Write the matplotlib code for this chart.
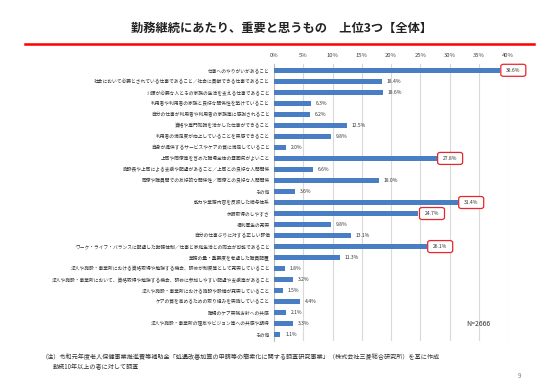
import matplotlib
matplotlib.use("Agg")
import matplotlib.pyplot as plt
from matplotlib.patches import FancyBboxPatch
from matplotlib.lines import Line2D

plt.rcParams['font.family'] = ['Noto Sans CJK JP', 'DejaVu Sans']

categories = [
    "仕事へのやりがいがあること",
    "社会において必要とされている仕事であること／社会に貢献できる仕事であること",
    "介護が必要な人とその家族の生活を支える仕事であること",
    "利用者や利用者の家族と良好な関係性を築けていること",
    "自分の仕事が利用者や利用者の家族等に感謝されること",
    "資格や専門知識を活かした仕事ができること",
    "利用者の満足度が向上していることを実感できること",
    "自身が提供するサービスやケアの質に満足していること",
    "上司や同僚等を含めた職場全体の雰囲気がよいこと",
    "施設長や上司による支援や配慮があること／上司との良好な人間関係",
    "同僚や職員間での友好的な関係性／同僚との良好な人間関係",
    "その他",
    "能力や業務内容を反映した給与体系",
    "休暇取得のしやすさ",
    "福利厚生の充実",
    "自分の仕事ぶりに対する正しい評価",
    "ワーク・ライフ・バランスに配慮した勤務体制／仕事と家庭生活との両立が可能であること",
    "業務の量・重要度を考慮した職員配置",
    "法人や施設・事業所における資格取得や勉強する機会、研修が制度等として充実していること",
    "法人や施設・事業所において、資格取得や勉強する機会、研修に参加しやすい配慮や支援等があること",
    "法人や施設・事業所における施設や設備が充実していること",
    "ケアの質を高めるための取り組みを実施していること",
    "職場のケア実践方針への共感",
    "法人や施設・事業所の理念やビジョン等への共感や期待",
    "その他",
]
values = [38.6, 18.4, 18.6, 6.3, 6.2, 12.5, 9.8, 2.0, 27.8, 6.6, 18.0, 3.6,
          31.4, 24.7, 9.8, 13.1, 26.1, 11.3, 1.8, 3.2, 1.5, 4.4, 2.1, 3.3, 1.1]
highlight = [38.6, 27.8, 31.4, 24.7, 26.1]
xticks = [0, 5, 10, 15, 20, 25, 30, 35, 40]
xticklabels = ["0%", "5%", "10%", "15%", "20%", "25%", "30%", "35%", "40%"]

W, H = 550, 390
fig = plt.figure(figsize=(5.5, 3.9), dpi=100)
fig.patch.set_facecolor("white")

ax = fig.add_axes([274 / W, 1 - 341 / H, (508 - 274) / W, (341 - 64) / H])
n = len(categories)
ypos = list(range(n))
ax.barh(ypos, values, height=0.45, color="#4A7EC4", zorder=3)
ax.set_xlim(0, 40)
ax.set_ylim(n - 0.43, -0.57)
ax.xaxis.tick_top()
ax.set_xticks(xticks)
ax.set_xticklabels(xticklabels, fontsize=4.2, color="#404040")
ax.tick_params(axis="x", length=0, pad=4)
ax.set_yticks(ypos)
ax.set_yticklabels(categories, fontsize=3.4, color="#333333")
ax.tick_params(axis="y", length=0, pad=3)
ax.grid(axis="x", color="#D9D9D9", linewidth=0.8, zorder=0)
for s in ["top", "right", "bottom"]:
    ax.spines[s].set_visible(False)
ax.spines["left"].set_color("#BFBFBF")
ax.spines["left"].set_linewidth(0.8)

for y, v in zip(ypos, values):
    if v in highlight:
        bx = ax.transData.transform((v, y))
        x0, y0 = bx[0] + 1, bx[1] - 6
        w_box, h_box = 25, 12
        fx0, fy0 = x0 / W, y0 / H
        patch = FancyBboxPatch((fx0, fy0), w_box / W, h_box / H,
                               boxstyle="round,pad=0,rounding_size=0.005",
                               transform=fig.transFigure, facecolor="white",
                               edgecolor="#E8262B", linewidth=0.9, zorder=4)
        fig.patches.append(patch)
        fig.text((x0 + w_box / 2) / W, (y0 + h_box / 2) / H, f"{v:.1f}%",
                 fontsize=3.6, va="center", ha="center", color="#333333",
                 zorder=6)
    else:
        ax.text(v + 0.8, y, f"{v:.1f}%", fontsize=3.6, va="center", ha="left",
                color="#333333", zorder=5)

ax.text(478 / W, 1 - 324 / H, "N=2666", transform=fig.transFigure, fontsize=5,
        ha="center", va="center", color="#333333")

fig.text(282 / W, 1 - 28 / H, "勤務継続にあたり、重要と思うもの　上位3つ【全体】",
         fontsize=8.8, fontweight="bold", ha="center", va="center", color="#222222")
fig.add_artist(Line2D([25 / W, 534 / W], [1 - 43.7 / H, 1 - 43.7 / H],
                      transform=fig.transFigure, color="#FF0000", linewidth=1.8))

fig.text(42 / W, 1 - 357 / H,
         "（注）令和元年度老人保健事業推進費等補助金「処遇改善加算の申請等の簡素化に関する調査研究事業」（株式会社三菱総合研究所）を基に作成",
         fontsize=4.4, ha="left", va="center", color="#333333")
fig.text(53 / W, 1 - 367 / H, "勤続10年以上の者に対して調査",
         fontsize=4.4, ha="left", va="center", color="#333333")
fig.text(519 / W, 1 - 376 / H, "9", fontsize=4.5, ha="center", va="center",
         color="#808080")

fig.savefig("out.png", dpi=100, facecolor="white")
